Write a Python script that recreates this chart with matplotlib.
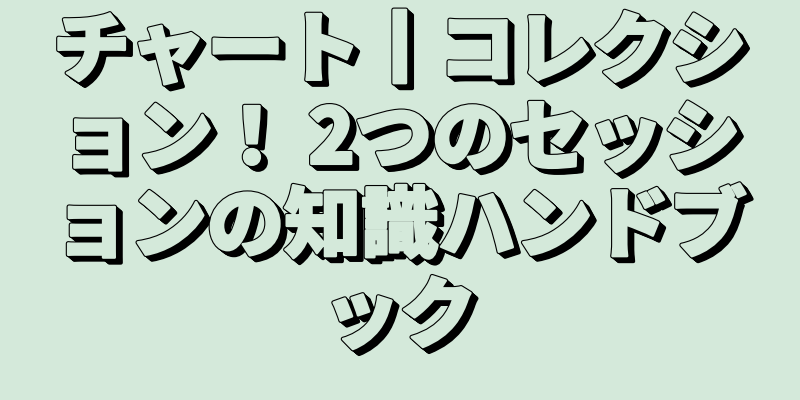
import matplotlib
matplotlib.use("Agg")
import matplotlib.pyplot as plt
import matplotlib.patheffects as pe

lines = ["チャート丨コレクシ", "ョン！ 2つのセッシ", "ョンの知識ハンドブ", "ック"]
line_y = [0.868, 0.648, 0.43, 0.205]

bg = "#d4e9da"
plt.rcParams['font.family'] = ['Noto Sans CJK JP', 'DejaVu Sans']

fig = plt.figure(figsize=(8, 4), dpi=100)
fig.patch.set_facecolor(bg)

effects = []
N = 10
for i in range(1, N + 1):
    effects.append(pe.Stroke(offset=(i * 0.45, -i * 0.38), linewidth=2.6,
                             foreground='black'))
    effects.append(pe.PathPatchEffect(offset=(i * 0.45, -i * 0.38),
                                      facecolor='black', edgecolor='black', linewidth=0.5))
effects.append(pe.Stroke(linewidth=3.4, foreground='black'))
effects.append(pe.Stroke(linewidth=1.8, foreground=bg))
effects.append(pe.Normal())

for txt, y in zip(lines, line_y):
    fig.text(0.5, y, txt, ha='center', va='center', fontsize=55.5,
             fontweight='heavy', color=bg, path_effects=effects)

fig.savefig("out.png", dpi=100, facecolor=bg)
